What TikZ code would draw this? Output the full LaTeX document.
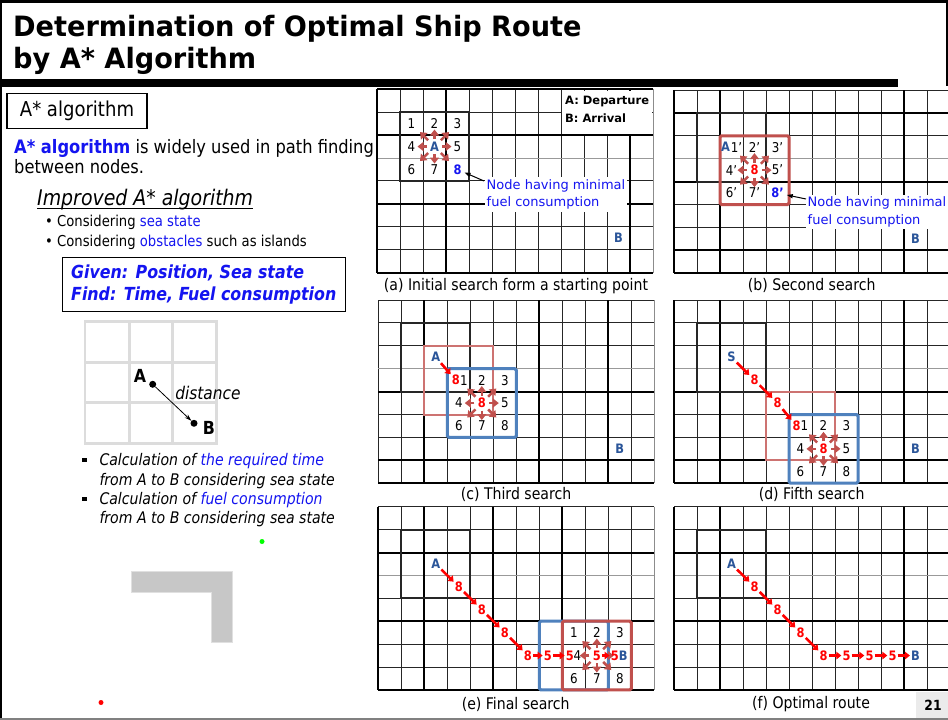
\documentclass[tikz,border=0pt]{standalone}
\usepackage{fontspec}
\setmainfont{DejaVu Sans}[FakeStretch=0.88]
\newfontfamily\wideF{DejaVu Sans}
\newfontfamily\titleF{DejaVu Sans}[FakeStretch=0.97]
\usetikzlibrary{arrows.meta}
\definecolor{cblue}{HTML}{1414F0}
\definecolor{lblue}{HTML}{2A5599}
\definecolor{brn}{HTML}{C0504D}
\definecolor{bbox}{HTML}{4F81BD}
\definecolor{lgray}{HTML}{DCDCDC}
\newcommand{\fsz}[2]{\fontsize{#1}{#2}\selectfont}
\newcommand{\shipgrid}[5]{%
 \begin{scope}[shift={(#2,#3)}]
  \foreach \i in {0,...,12} \draw[gline] (\i*23,0) -- (\i*23,183.2);
  \foreach \j in {0,...,8} \draw[gline] (0,\j*22.9) -- (276,\j*22.9);
  \draw[grayln] (0,3*22.9) -- (276,3*22.9);
  \foreach \i in {#4} \draw[gthick] (\i*23,0) -- (\i*23,183.2);
  \foreach \j in {#5} \draw[gthick] (0,\j*22.9) -- (276,\j*22.9);
  \foreach \c in {0,...,11} \foreach \r in {0,...,7} \coordinate (#1-\c-\r) at ({(\c+0.5)*23},{(\r+0.5)*22.9});
  \foreach \c in {0,...,12} \foreach \r in {0,...,8} \coordinate (#1-g-\c-\r) at ({\c*23},{\r*22.9});
 \end{scope}}
\newcommand{\starr}[1]{%
 \foreach \a in {0,90,180,270} \draw[brarr] ([shift={(\a:7.5)}]#1) -- ([shift={(\a:17)}]#1);
 \foreach \a in {45,135,225,315} \draw[brarr] ([shift={(\a:9)}]#1) -- ([shift={(\a:20.5)}]#1);}
\begin{document}
\begin{tikzpicture}[x=1pt,y=-1pt,
 gline/.style={line width=0.9pt, black!85},
 gthick/.style={line width=2pt, black},
 grayln/.style={line width=1pt, black!40},
 bkbox/.style={line width=2.2pt, black!85},
 rbox/.style={line width=3pt, brn, rounded corners=1.5pt},
 rboxl/.style={line width=2pt, brn!80},
 bbx/.style={line width=3pt, bbox, rounded corners=1.5pt},
 num/.style={inner sep=1pt, font=\fsz{13.5}{15}},
 lbl/.style={inner sep=1pt, font=\bfseries\fsz{13}{15}, text=lblue},
 r8/.style={inner sep=1pt, font=\bfseries\fsz{13}{15}, text=red},
 b8/.style={inner sep=1pt, font=\bfseries\fsz{13}{15}, text=cblue},
 redarr/.style={draw=red, line width=2.6pt, -{Triangle[length=5pt,width=7.5pt]}},
 brarr/.style={draw=brn, line width=2.5pt, -{Triangle[length=6pt,width=9pt]}},
 notearr/.style={draw=black, line width=1pt, -{Triangle[length=6pt,width=4pt]}, shorten >=2pt},
 note/.style={fill=white, inner sep=2pt, align=left, text=cblue, font=\wideF\fsz{13}{17.5}},
 captxt/.style={font=\fsz{16}{18}},
 body/.style={anchor=base west, inner sep=0}]
\useasboundingbox (0,0) rectangle (948,720);
\clip (0,0) rectangle (948,720);
\fill[white] (0,0) rectangle (948,720);

% ---------- title ----------
\draw[line width=2.7pt] (0,1.3) -- (948,1.3);
\draw[line width=2pt] (1,0) -- (1,720);
\draw[line width=2pt] (946.5,0) -- (946.5,86);
\fill[black] (0,79) rectangle (898,86.5);
\node[body, font=\titleF\bfseries\fsz{28}{32}] (t1) at (13,36) {Determination of Optimal Ship Route};
\node[body, font=\titleF\bfseries\fsz{28}{32}] (t2) at (13,68.5) {by A* Algorithm};

% ---------- left text ----------
\node[draw, line width=1.3pt, minimum width=140pt, minimum height=35pt, font=\fsz{20.5}{22}] (hdr) at (77,111) {A* algorithm};
\node[body, font=\fsz{18.5}{22}] (p1) at (14,153.3) {\textcolor{cblue}{\bfseries A* algorithm} is widely used in path finding};
\node[body, font=\fsz{18.5}{22}] (p2) at (14,173.5) {between nodes.};
\node[body, font=\itshape\fsz{21.5}{24}] (imp) at (37,205) {Improved A* algorithm};
\draw[line width=1.1pt] ([yshift=-3.5]imp.base west) -- ([yshift=-3.5]imp.base east);
\node[body, font=\fsz{15}{17}] (c1) at (45,226.7) {\textbullet\ Considering \textcolor{cblue}{sea state}};
\node[body, font=\fsz{15}{17}] (c2) at (45,246.7) {\textbullet\ Considering \textcolor{cblue}{obstacles} such as islands};
\node[draw, line width=1pt, minimum width=283pt, minimum height=54.5pt, anchor=north west, inner sep=0] (gbox) at (62,256.7) {};
\node[body, font=\bfseries\itshape\fsz{18}{20}, text=cblue] (g1) at (71,278.3) {Given: Position, Sea state};
\node[body, font=\bfseries\itshape\fsz{18}{20}, text=cblue] (g2) at (71,300.7) {Find: Time, Fuel consumption};

% small 3x3 grid
\draw[lgray, line width=2.5pt] (85,321.7) rectangle (216.7,443.3);
\draw[lgray, line width=2.5pt] (129.3,321.7) -- (129.3,443.3) (172.7,321.7) -- (172.7,443.3) (85,362.7) -- (216.7,362.7) (85,402.7) -- (216.7,402.7);
\node[circle, fill=black, inner sep=0, minimum size=7pt] (dA) at (152.7,384.3) {};
\node[circle, fill=black, inner sep=0, minimum size=7pt] (dB) at (194,423.3) {};
\draw[line width=0.8pt, -{Stealth[length=7pt,width=4.5pt]}] (dA) -- (dB);
\node[font=\bfseries\fsz{18}{20}] (lA) at (140,376) {A};
\node[font=\bfseries\fsz{18}{20}] (lB) at (209,428) {B};
\node[font=\itshape\fsz{17.5}{20}] (dist) at (208,392.7) {distance};

\fill (82,457.5) rectangle (86.5,462);
\fill (82,496.5) rectangle (86.5,501);
\node[body, font=\itshape\fsz{16}{18}] (k1) at (99.3,465) {Calculation of \textcolor{cblue}{the required time}};
\node[body, font=\itshape\fsz{16}{18}] (k2) at (99.3,485) {from A to B considering sea state};
\node[body, font=\itshape\fsz{16}{18}] (k3) at (99.3,504) {Calculation of \textcolor{cblue}{fuel consumption}};
\node[body, font=\itshape\fsz{16}{18}] (k4) at (99.3,523) {from A to B considering sea state};

\node[circle, fill=green, inner sep=0, minimum size=5pt] (gdot) at (262,541.5) {};
\node[circle, fill=red, inner sep=0, minimum size=5pt] (rdot) at (101,702.5) {};
\filldraw[fill=black!22, draw=black!12, line width=0.8pt] (131,571) -- (232.7,571) -- (232.7,642.3) -- (211.7,642.3) -- (211.7,592) -- (131,592) -- cycle;

% ---------- panel (a) ----------
\shipgrid{a}{377}{89.3}{0,3,11}{0,2,5,8}
\draw[line width=1pt, black!45] (a-g-12-0) -- (a-g-12-8);
\fill[white] ([shift={(1.3,1.3)}]a-g-8-0) rectangle ([shift={(-1.3,-1.3)}]a-g-12-2);
\node[anchor=west, inner sep=0, font=\wideF\bfseries\fsz{11.5}{13}] (leg1) at (565,101.5) {A: Departure};
\node[anchor=west, inner sep=0, font=\wideF\bfseries\fsz{11.5}{13}] (leg2) at (565,118) {B: Arrival};
\draw[bkbox] (a-g-1-1) rectangle (a-g-4-4);
\starr{a-2-2}
\node[num] (a1) at (a-1-1) {1}; \node[num] (a2) at (a-2-1) {2}; \node[num] (a3) at (a-3-1) {3};
\node[num] (a4) at (a-1-2) {4}; \node[lbl] (aA) at (a-2-2) {A}; \node[num] (a5) at (a-3-2) {5};
\node[num] (a6) at (a-1-3) {6}; \node[num] (a7) at (a-2-3) {7}; \node[b8] (a8) at (a-3-3) {8};
\node[lbl] (aB) at (a-10-6) {B};
\node[note] (anote) at (556,194.5) {Node having minimal\\fuel consumption};
\coordinate (atail) at (484,181);
\draw[notearr] (atail) -- (a8);
\node[captxt] (acap) at (516,286.5) {(a) Initial search form a starting point};

% ---------- panel (b) ----------
\shipgrid{b}{674}{90}{0,2,10}{1,4,7,8}
\draw[bkbox] (b-g-1-1) rectangle (b-g-4-4);
\draw[rbox] (b-g-2-2) rectangle (b-g-5-5);
\starr{b-3-3}
\node[lbl] (bA) at ([xshift=-6]b-2-2) {A}; \node[num] (b1) at ([xshift=5]b-2-2) {1’};
\node[num] (b2) at (b-3-2) {2’}; \node[num] (b3) at (b-4-2) {3’};
\node[num] (b4) at (b-2-3) {4’}; \node[r8] (b8c) at (b-3-3) {8}; \node[num] (b5) at (b-4-3) {5’};
\node[num] (b6) at (b-2-4) {6’}; \node[num] (b7) at (b-3-4) {7’}; \node[b8] (b8) at (b-4-4) {8’};
\node[lbl] (bB) at (b-10-6) {B};
\node[note] (bnote) at (877,212) {Node having minimal\\fuel consumption};
\coordinate (btail) at (806,199);
\draw[notearr] (btail) -- (b8);
\node[captxt] (bcap) at (811.7,285.5) {(b) Second search};

% ---------- panel (c) ----------
\shipgrid{c}{378.3}{300}{2,7,10}{4,7,8}
\draw[line width=1pt, black!45] (c-g-12-0) -- (c-g-12-8);
\draw[bkbox] (c-g-1-1) rectangle (c-g-4-4);
\draw[rboxl] (c-g-2-2) rectangle (c-g-5-5);
\draw[bbx] (c-g-3-3) rectangle (c-g-6-6);
\starr{c-4-4}
\node[lbl] (cA) at (c-2-2) {A};
\node[r8] (c8a) at ([xshift=-3]c-3-3) {8}; \node[num] (c1) at ([xshift=5]c-3-3) {1};
\node[num] (c2) at (c-4-3) {2}; \node[num] (c3) at (c-5-3) {3};
\node[num] (c4) at (c-3-4) {4}; \node[r8] (c8c) at (c-4-4) {8}; \node[num] (c5) at (c-5-4) {5};
\node[num] (c6) at (c-3-5) {6}; \node[num] (c7) at (c-4-5) {7}; \node[num] (c8) at (c-5-5) {8};
\draw[redarr] (cA) -- (c8a);
\node[lbl] (cB) at (c-10-6) {B};
\node[captxt] (ccap) at (516,494) {(c) Third search};

% ---------- panel (d) ----------
\shipgrid{d}{674}{300}{0,2,10}{4,7,8}
\draw[bkbox] (d-g-1-1) rectangle (d-g-4-4);
\draw[rboxl] (d-g-4-4) rectangle (d-g-7-7);
\draw[bbx] (d-g-5-5) rectangle (d-g-8-8);
\starr{d-6-6}
\node[lbl] (dS) at (d-2-2) {S};
\node[r8] (d8a) at (d-3-3) {8}; \node[r8] (d8b) at (d-4-4) {8};
\node[r8] (d8c) at ([xshift=-4]d-5-5) {8}; \node[num] (d1) at ([xshift=4]d-5-5) {1};
\node[num] (d2) at (d-6-5) {2}; \node[num] (d3) at (d-7-5) {3};
\node[num] (d4) at (d-5-6) {4}; \node[r8] (d8d) at (d-6-6) {8}; \node[num] (d5) at (d-7-6) {5};
\node[num] (d6) at (d-5-7) {6}; \node[num] (d7) at (d-6-7) {7}; \node[num] (d8) at (d-7-7) {8};
\draw[redarr] (dS) -- (d8a);
\draw[redarr] (d8a) -- (d8b);
\draw[redarr] (d8b) -- (d8c);
\node[lbl] (dB) at (d-10-6) {B};
\node[captxt] (dcap) at (811.7,494) {(d) Fifth search};

% ---------- panel (e) ----------
\shipgrid{e}{378.3}{506.7}{0,2,5,8}{2,5,8}
\draw[line width=1pt, black!45] (e-g-12-0) -- (e-g-12-8);
\draw[bkbox] (e-g-1-1) rectangle (e-g-4-4);
\draw[bbx] (e-g-7-5) rectangle (e-g-10-8);
\draw[rbox] (e-g-8-5) rectangle (e-g-11-8);
\starr{e-9-6}
\node[lbl] (eA) at (e-2-2) {A};
\node[r8] (e8a) at (e-3-3) {8}; \node[r8] (e8b) at (e-4-4) {8};
\node[r8] (e8c) at (e-5-5) {8}; \node[r8] (e8d) at (e-6-6) {8};
\node[r8] (e5a) at ([xshift=-3]e-7-6) {5};
\node[r8] (e5b) at ([xshift=-4]e-8-6) {5}; \node[num] (e4) at ([xshift=3.5]e-8-6) {4};
\node[r8] (e5c) at (e-9-6) {5};
\node[r8] (e5d) at ([xshift=-5]e-10-6) {5}; \node[lbl] (eB) at ([xshift=3.5]e-10-6) {B};
\node[num] (e1) at (e-8-5) {1}; \node[num] (e2) at (e-9-5) {2}; \node[num] (e3) at (e-10-5) {3};
\node[num] (e6) at (e-8-7) {6}; \node[num] (e7) at (e-9-7) {7}; \node[num] (e8) at (e-10-7) {8};
\draw[redarr] (eA) -- (e8a);
\draw[redarr] (e8a) -- (e8b);
\draw[redarr] (e8b) -- (e8c);
\draw[redarr] (e8c) -- (e8d);
\draw[redarr] (e8d) -- (e5a);
\draw[redarr] (e5a) -- (e5b);
\draw[redarr] (e5c) -- (e5d);
\node[captxt] (ecap) at (515.7,704) {(e) Final search};

% ---------- panel (f) ----------
\shipgrid{f}{674}{506.7}{0,2,10}{2,5,8}
\draw[bkbox] (f-g-1-1) rectangle (f-g-4-4);
\node[lbl] (fA) at (f-2-2) {A};
\node[r8] (f8a) at (f-3-3) {8}; \node[r8] (f8b) at (f-4-4) {8};
\node[r8] (f8c) at (f-5-5) {8}; \node[r8] (f8d) at (f-6-6) {8};
\node[r8] (f5a) at (f-7-6) {5}; \node[r8] (f5b) at (f-8-6) {5}; \node[r8] (f5c) at (f-9-6) {5};
\node[lbl] (fB) at (f-10-6) {B};
\draw[redarr] (fA) -- (f8a);
\draw[redarr] (f8a) -- (f8b);
\draw[redarr] (f8b) -- (f8c);
\draw[redarr] (f8c) -- (f8d);
\draw[redarr] (f8d) -- (f5a);
\draw[redarr] (f5a) -- (f5b);
\draw[redarr] (f5b) -- (f5c);
\draw[redarr] (f5c) -- (fB);
\node[captxt] (fcap) at (811,704) {(f) Optimal route};

% ---------- footer ----------
\fill[black!8] (916,692) rectangle (948,720);
\node[font=\bfseries\fsz{14}{16}] (pg) at (933,705.5) {21};
\draw[line width=1.5pt, black!50] (0,719.2) -- (948,719.2);
\end{tikzpicture}
\end{document}
